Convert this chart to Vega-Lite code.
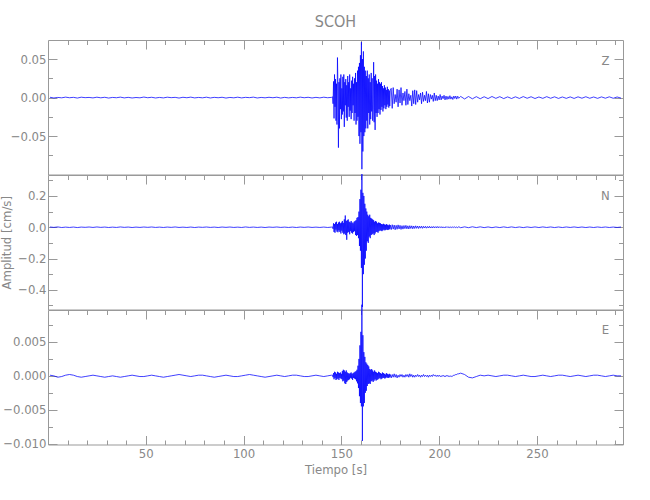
{
"$schema": "https://vega.github.io/schema/vega-lite/v6.json",
"background": "white",
"padding": {"left": 0, "top": 13, "right": 5, "bottom": 5},
"spacing": 0,
"bounds": "flush",
"config": {
  "view": {"stroke": "#999999", "strokeWidth": 1},
  "axis": {"domain": false, "tickColor": "#999999", "labelColor": "#888888", "titleColor": "#888888",
           "labelFont": "Liberation Sans Narrow, DejaVu Sans Condensed, Liberation Sans, sans-serif",
           "titleFont": "Liberation Sans Narrow, DejaVu Sans Condensed, Liberation Sans, sans-serif",
           "labelFontSize": 13, "titleFontSize": 13, "titleFontWeight": "normal", "grid": false, "tickWidth": 1},
  "title": {"font": "Liberation Sans Narrow, DejaVu Sans Condensed, Liberation Sans, sans-serif", "fontWeight": "normal", "color": "#888888", "fontSize": 16},
  "text": {"font": "Liberation Sans Narrow, DejaVu Sans Condensed, Liberation Sans, sans-serif"}
},
"data": {"values": [
{"t":1,"z":0.0004,"n":0.0015,"e":0.0001},{"t":3,"z":-0.0005,"n":-0.001,"e":0.0},{"t":5,"z":0.0002,"n":0.002,"e":-0.0002},{"t":7,"z":-0.0003,"n":-0.0018,"e":-0.0001},{"t":9,"z":0.0006,"n":0.0008,"e":0.0001},{"t":11,"z":-0.0002,"n":-0.0014,"e":0.0002},{"t":13,"z":0.0003,"n":0.0012,"e":0.0001},{"t":15,"z":-0.0006,"n":-0.002,"e":-0.0001},{"t":17,"z":0.0005,"n":0.001,"e":-0.0002},{"t":19,"z":-0.0001,"n":-0.0006,"e":-0.0001},
{"t":21,"z":0.0002,"n":0.0015,"e":0.0},{"t":23,"z":-0.0004,"n":-0.0012,"e":0.0001},{"t":25,"z":0.0005,"n":0.0018,"e":0.0},{"t":27,"z":-0.0003,"n":-0.0009,"e":-0.0001},{"t":29,"z":0.0004,"n":0.0011,"e":-0.0002},{"t":31,"z":-0.0006,"n":-0.0016,"e":-0.0001},{"t":33,"z":0.0002,"n":0.0007,"e":0.0},{"t":35,"z":-0.0002,"n":-0.0013,"e":-0.0001},{"t":37,"z":0.0006,"n":0.0019,"e":-0.0002},{"t":39,"z":-0.0004,"n":-0.0008,"e":-0.0001},
{"t":41,"z":0.0003,"n":0.0012,"e":0.0},{"t":43,"z":-0.0005,"n":-0.0017,"e":0.0001},{"t":45,"z":0.0001,"n":0.0009,"e":0.0},{"t":47,"z":-0.0003,"n":-0.0011,"e":-0.0001},{"t":49,"z":0.0007,"n":0.0014,"e":-0.0001},{"t":51,"z":-0.0002,"n":-0.0007,"e":0.0},{"t":53,"z":0.0004,"n":0.0016,"e":0.0001},{"t":55,"z":-0.0005,"n":-0.0012,"e":0.0},{"t":57,"z":0.0002,"n":0.0008,"e":-0.0001},{"t":59,"z":-0.0004,"n":-0.0015,"e":-0.0002},
{"t":61,"z":0.0005,"n":0.0011,"e":-0.0001},{"t":63,"z":-0.0001,"n":-0.0009,"e":0.0},{"t":65,"z":0.0003,"n":0.0017,"e":0.0001},{"t":67,"z":-0.0006,"n":-0.0013,"e":0.0002},{"t":69,"z":0.0004,"n":0.0006,"e":0.0001},{"t":71,"z":-0.0002,"n":-0.0014,"e":0.0},{"t":73,"z":0.0006,"n":0.0012,"e":-0.0001},{"t":75,"z":-0.0004,"n":-0.0018,"e":0.0},{"t":77,"z":0.0002,"n":0.001,"e":0.0001},{"t":79,"z":-0.0003,"n":-0.0007,"e":0.0001},
{"t":81,"z":0.0005,"n":0.0015,"e":0.0},{"t":83,"z":-0.0005,"n":-0.0011,"e":-0.0001},{"t":85,"z":0.0003,"n":0.0009,"e":-0.0002},{"t":87,"z":-0.0002,"n":-0.0016,"e":-0.0001},{"t":89,"z":0.0004,"n":0.0013,"e":0.0},{"t":91,"z":-0.0006,"n":-0.0008,"e":0.0001},{"t":93,"z":0.0002,"n":0.0014,"e":0.0},{"t":95,"z":-0.0003,"n":-0.0012,"e":-0.0001},{"t":97,"z":0.0005,"n":0.0007,"e":-0.0001},{"t":99,"z":-0.0004,"n":-0.0015,"e":0.0},
{"t":101,"z":0.0003,"n":0.0018,"e":0.0001},{"t":103,"z":-0.0001,"n":-0.001,"e":0.0002},{"t":105,"z":0.0006,"n":0.0011,"e":0.0001},{"t":107,"z":-0.0005,"n":-0.0013,"e":0.0},{"t":109,"z":0.0002,"n":0.0009,"e":-0.0001},{"t":111,"z":-0.0003,"n":-0.0017,"e":-0.0002},{"t":113,"z":0.0004,"n":0.0012,"e":-0.0001},{"t":115,"z":-0.0002,"n":-0.0006,"e":0.0},{"t":117,"z":0.0005,"n":0.0016,"e":0.0001},{"t":119,"z":-0.0006,"n":-0.0011,"e":0.0},
{"t":121,"z":0.0003,"n":0.0008,"e":-0.0001},{"t":123,"z":-0.0004,"n":-0.0014,"e":0.0},{"t":125,"z":0.0002,"n":0.001,"e":0.0001},{"t":127,"z":-0.0003,"n":-0.0016,"e":0.0001},{"t":129,"z":0.0006,"n":0.0013,"e":0.0},{"t":131,"z":-0.0002,"n":-0.0009,"e":-0.0001},{"t":133,"z":0.0004,"n":0.0015,"e":-0.0001},{"t":135,"z":-0.0005,"n":-0.0012,"e":0.0},{"t":137,"z":0.0003,"n":0.0007,"e":0.0001},{"t":139,"z":-0.0004,"n":-0.0013,"e":0.0},
{"t":141,"z":0.0005,"n":0.0011,"e":-0.0001},{"t":143,"z":-0.0002,"n":-0.0015,"e":0.0},{"t":145,"z":0.0003,"n":0.0009,"e":0.0001},
{"t":145.5,"z":0.001,"n":0.002,"e":0.0001},{"t":145.75,"z":-0.008,"n":-0.01,"e":-0.0002},{"t":146,"z":0.021,"n":0.025,"e":0.0004},{"t":146.25,"z":-0.027,"n":-0.03,"e":-0.0005},{"t":146.5,"z":0.03,"n":0.02,"e":0.0006},{"t":146.75,"z":-0.012,"n":-0.035,"e":-0.0003},{"t":147,"z":0.024,"n":0.03,"e":0.0005},{"t":147.25,"z":-0.03,"n":-0.015,"e":-0.0006},{"t":147.5,"z":0.018,"n":0.035,"e":0.0003},{"t":147.75,"z":-0.035,"n":-0.028,"e":-0.0005},
{"t":148,"z":0.052,"n":0.02,"e":0.0006},{"t":148.25,"z":0.015,"n":-0.032,"e":-0.0004},{"t":148.5,"z":-0.065,"n":0.03,"e":0.0005},{"t":148.75,"z":0.02,"n":-0.02,"e":-0.0006},{"t":149,"z":-0.04,"n":0.035,"e":0.0004},{"t":149.25,"z":0.025,"n":-0.03,"e":-0.0003},{"t":149.5,"z":-0.015,"n":0.025,"e":0.0005},{"t":149.75,"z":0.03,"n":-0.04,"e":-0.0004},{"t":150,"z":-0.028,"n":0.03,"e":0.0003},{"t":150.25,"z":0.012,"n":-0.022,"e":-0.0005},
{"t":150.5,"z":-0.022,"n":0.04,"e":0.0007},{"t":150.75,"z":0.027,"n":-0.035,"e":-0.0008},{"t":151,"z":-0.018,"n":0.028,"e":0.0009},{"t":151.25,"z":0.03,"n":-0.045,"e":-0.0007},{"t":151.5,"z":-0.038,"n":0.05,"e":0.0008},{"t":151.75,"z":0.02,"n":-0.04,"e":-0.0011},{"t":152,"z":-0.01,"n":0.075,"e":0.0006},{"t":152.25,"z":0.024,"n":-0.05,"e":-0.0012},{"t":152.5,"z":-0.026,"n":0.04,"e":0.0008},{"t":152.75,"z":0.016,"n":-0.08,"e":-0.0009},
{"t":153,"z":-0.03,"n":0.045,"e":0.0005},{"t":153.25,"z":0.028,"n":-0.035,"e":-0.0007},{"t":153.5,"z":-0.012,"n":0.05,"e":0.0004},{"t":153.75,"z":0.02,"n":-0.03,"e":-0.0006},{"t":154,"z":-0.025,"n":0.035,"e":0.0003},{"t":154.25,"z":0.03,"n":-0.045,"e":-0.0005},{"t":154.5,"z":-0.017,"n":0.03,"e":0.0004},{"t":154.75,"z":0.012,"n":-0.025,"e":-0.0003},{"t":155,"z":-0.028,"n":0.04,"e":0.0005},{"t":155.25,"z":0.022,"n":-0.035,"e":-0.0004},
{"t":155.5,"z":-0.02,"n":0.03,"e":0.0003},{"t":155.75,"z":0.027,"n":-0.04,"e":-0.0006},{"t":156,"z":-0.01,"n":0.025,"e":0.0004},{"t":156.25,"z":0.018,"n":-0.03,"e":-0.0003},{"t":156.5,"z":-0.03,"n":0.035,"e":0.0005},{"t":156.75,"z":0.025,"n":-0.025,"e":-0.0004},{"t":157,"z":-0.02,"n":0.04,"e":0.0006},{"t":157.25,"z":0.032,"n":-0.05,"e":-0.0005},{"t":157.5,"z":-0.035,"n":0.045,"e":0.0007},{"t":157.75,"z":0.02,"n":-0.055,"e":-0.0008},
{"t":158,"z":-0.03,"n":0.06,"e":0.0009},{"t":158.25,"z":0.035,"n":-0.05,"e":-0.0011},{"t":158.5,"z":-0.025,"n":0.065,"e":0.0015},{"t":158.75,"z":0.04,"n":-0.07,"e":-0.0018},{"t":159,"z":-0.05,"n":0.1,"e":0.0025},{"t":159.25,"z":0.045,"n":-0.12,"e":-0.003},{"t":159.5,"z":-0.06,"n":0.18,"e":0.0045},{"t":159.75,"z":0.055,"n":-0.15,"e":-0.004},{"t":160,"z":-0.045,"n":0.24,"e":0.0065},{"t":160.25,"z":0.072,"n":-0.26,"e":-0.0045},
{"t":160.5,"z":-0.093,"n":0.34,"e":0.0105},{"t":160.75,"z":0.05,"n":-0.51,"e":-0.0096},{"t":161,"z":-0.07,"n":0.22,"e":0.006},{"t":161.25,"z":0.06,"n":-0.3,"e":-0.0045},{"t":161.5,"z":-0.05,"n":0.2,"e":0.0035},{"t":161.75,"z":0.04,"n":-0.24,"e":-0.004},{"t":162,"z":-0.045,"n":0.15,"e":0.0028},{"t":162.25,"z":0.035,"n":-0.2,"e":-0.0025},{"t":162.5,"z":-0.04,"n":0.12,"e":0.002},{"t":162.75,"z":0.028,"n":-0.15,"e":-0.0022},
{"t":163,"z":-0.03,"n":0.1,"e":0.0018},{"t":163.25,"z":0.035,"n":-0.09,"e":-0.0015},{"t":163.5,"z":-0.04,"n":0.08,"e":0.0016},{"t":163.75,"z":0.025,"n":-0.1,"e":-0.0012},{"t":164,"z":-0.02,"n":0.07,"e":0.0014},{"t":164.25,"z":0.03,"n":-0.06,"e":-0.0011},{"t":164.5,"z":-0.035,"n":0.08,"e":0.001},{"t":164.75,"z":0.02,"n":-0.07,"e":-0.0012},{"t":165,"z":-0.028,"n":0.06,"e":0.0009},{"t":165.25,"z":0.032,"n":-0.05,"e":-0.0008},
{"t":165.5,"z":-0.018,"n":0.055,"e":0.001},{"t":165.75,"z":0.025,"n":-0.045,"e":-0.0007},{"t":166,"z":-0.03,"n":0.05,"e":0.0008},{"t":166.25,"z":-0.015,"n":-0.04,"e":-0.0009},{"t":166.5,"z":0.046,"n":0.045,"e":0.0006},{"t":166.75,"z":-0.032,"n":-0.05,"e":-0.0007},{"t":167,"z":0.028,"n":0.035,"e":0.0008},{"t":167.25,"z":-0.042,"n":-0.04,"e":-0.0005},{"t":167.5,"z":0.03,"n":0.04,"e":0.0006},{"t":167.75,"z":-0.02,"n":-0.03,"e":-0.0007},
{"t":168,"z":0.022,"n":0.035,"e":0.0005},{"t":168.25,"z":-0.025,"n":-0.03,"e":-0.0006},{"t":168.5,"z":0.018,"n":0.025,"e":0.0004},{"t":168.75,"z":-0.02,"n":-0.035,"e":-0.0005},{"t":169,"z":0.024,"n":0.03,"e":0.0006},{"t":169.25,"z":-0.015,"n":-0.025,"e":-0.0004},{"t":169.5,"z":0.02,"n":0.028,"e":0.0005},{"t":169.75,"z":-0.022,"n":-0.02,"e":-0.0003},{"t":170,"z":0.018,"n":0.025,"e":0.0004},{"t":170.25,"z":-0.016,"n":-0.022,"e":-0.0005},
{"t":170.5,"z":0.02,"n":0.02,"e":0.0003},{"t":170.75,"z":-0.012,"n":-0.025,"e":-0.0004},{"t":171,"z":0.015,"n":0.018,"e":0.0005},{"t":171.25,"z":-0.018,"n":-0.02,"e":-0.0003},{"t":171.5,"z":0.012,"n":0.022,"e":0.0004},{"t":171.75,"z":-0.014,"n":-0.015,"e":-0.0003},{"t":172,"z":0.016,"n":0.018,"e":0.0003},{"t":172.25,"z":-0.01,"n":-0.02,"e":-0.0004},{"t":172.5,"z":0.013,"n":0.015,"e":0.0002},{"t":172.75,"z":-0.015,"n":-0.017,"e":-0.0003},
{"t":173,"z":0.01,"n":0.02,"e":0.0004},{"t":173.25,"z":-0.012,"n":-0.014,"e":-0.0002},{"t":173.5,"z":0.014,"n":0.016,"e":0.0003},{"t":173.75,"z":-0.009,"n":-0.018,"e":-0.0003},{"t":174,"z":0.011,"n":0.012,"e":0.0002},{"t":174.25,"z":-0.013,"n":-0.015,"e":-0.0003},{"t":174.5,"z":0.009,"n":0.017,"e":0.0003},{"t":174.75,"z":-0.011,"n":-0.012,"e":-0.0002},{"t":175,"z":0.01,"n":0.014,"e":0.0002},
{"t":175.5,"z":0.012,"n":-0.015,"e":-0.0003},{"t":176,"z":-0.014,"n":0.016,"e":0.0002},{"t":176.5,"z":0.013,"n":-0.012,"e":-0.0002},{"t":177,"z":-0.008,"n":0.014,"e":0.0003},{"t":177.5,"z":0.004,"n":-0.016,"e":-0.0002},{"t":178,"z":-0.006,"n":0.012,"e":0.0002},{"t":178.5,"z":0.011,"n":-0.013,"e":-0.0003},{"t":179,"z":-0.012,"n":0.015,"e":0.0001},{"t":179.5,"z":0.01,"n":-0.011,"e":-0.0002},{"t":180,"z":-0.007,"n":0.012,"e":0.0002},
{"t":180.5,"z":0.013,"n":-0.014,"e":-0.0001},{"t":181,"z":-0.01,"n":0.01,"e":0.0002},{"t":181.5,"z":0.006,"n":-0.012,"e":-0.0002},{"t":182,"z":-0.004,"n":0.011,"e":0.0001},{"t":182.5,"z":0.008,"n":-0.009,"e":-0.0002},{"t":183,"z":-0.01,"n":0.012,"e":0.0002},{"t":183.5,"z":0.011,"n":-0.01,"e":-0.0001},{"t":184,"z":-0.009,"n":0.009,"e":0.0002},{"t":184.5,"z":0.005,"n":-0.011,"e":-0.0002},{"t":185,"z":-0.004,"n":0.01,"e":0.0003},
{"t":185.5,"z":0.003,"n":-0.008,"e":-0.0001},{"t":186,"z":-0.011,"n":0.009,"e":0.0002},{"t":186.5,"z":0.009,"n":-0.01,"e":-0.0002},{"t":187,"z":-0.008,"n":0.008,"e":0.0001},{"t":187.5,"z":0.01,"n":-0.008,"e":-0.0002},{"t":188,"z":-0.009,"n":0.009,"e":0.0001},{"t":188.5,"z":0.009,"n":-0.007,"e":-0.0001},{"t":189,"z":-0.006,"n":0.008,"e":0.0002},{"t":189.5,"z":0.004,"n":-0.008,"e":-0.0001},{"t":190,"z":-0.003,"n":0.007,"e":0.0001},
{"t":190.5,"z":0.006,"n":-0.006,"e":-0.0002},{"t":191,"z":-0.008,"n":0.007,"e":0.0001},{"t":191.5,"z":0.007,"n":-0.007,"e":-0.0001},{"t":192,"z":-0.005,"n":0.006,"e":0.0002},{"t":192.5,"z":0.003,"n":-0.005,"e":-0.0001},{"t":193,"z":-0.004,"n":0.006,"e":0.0001},{"t":193.5,"z":0.008,"n":-0.006,"e":-0.0001},{"t":194,"z":-0.007,"n":0.005,"e":0.0001},{"t":194.5,"z":0.005,"n":-0.005,"e":-0.0002},{"t":195,"z":-0.006,"n":0.006,"e":0.0001},
{"t":195.5,"z":0.004,"n":-0.005,"e":-0.0001},{"t":196,"z":-0.002,"n":0.004,"e":0.0001},{"t":196.5,"z":0.003,"n":-0.005,"e":-0.0001},{"t":197,"z":-0.005,"n":0.005,"e":0.0002},{"t":197.5,"z":0.006,"n":-0.004,"e":0.0},{"t":198,"z":-0.004,"n":0.004,"e":0.0001},{"t":198.5,"z":0.003,"n":-0.004,"e":-0.0001},{"t":199,"z":-0.004,"n":0.005,"e":0.0001},{"t":199.5,"z":0.002,"n":-0.004,"e":-0.0001},{"t":200,"z":-0.003,"n":0.004,"e":0.0001},
{"t":200.5,"z":0.004,"n":-0.003,"e":-0.0001},{"t":201,"z":-0.003,"n":0.004,"e":0.0},{"t":201.5,"z":0.002,"n":-0.004,"e":-0.0001},{"t":202,"z":-0.0015,"n":0.003,"e":0.0001},{"t":202.5,"z":0.003,"n":-0.004,"e":-0.0001},{"t":203,"z":-0.003,"n":0.003,"e":0.0},{"t":203.5,"z":0.002,"n":-0.003,"e":-0.0001},{"t":204,"z":-0.0025,"n":0.004,"e":0.0001},{"t":204.5,"z":0.0015,"n":-0.003,"e":-0.0001},{"t":205,"z":-0.002,"n":0.003,"e":0.0},
{"t":205.5,"z":0.0025,"n":-0.003,"e":-0.0001},{"t":206,"z":-0.002,"n":0.003,"e":0.0},{"t":206.5,"z":0.001,"n":-0.003,"e":-0.0001},{"t":207,"z":-0.0025,"n":0.003,"e":0.0},{"t":207.5,"z":0.002,"n":-0.002,"e":0.0001},{"t":208,"z":-0.0012,"n":0.003,"e":0.0001},{"t":208.5,"z":0.002,"n":-0.003,"e":0.0002},{"t":209,"z":-0.002,"n":0.002,"e":0.0002},{"t":209.5,"z":0.0018,"n":-0.003,"e":0.0003},{"t":210,"z":-0.001,"n":0.003,"e":0.0003},
{"t":211,"z":0.0015,"n":-0.003,"e":0.0004},{"t":213,"z":-0.0018,"n":0.0025,"e":0.0002},{"t":215,"z":0.0014,"n":-0.0028,"e":-0.0002},{"t":217,"z":-0.0016,"n":0.003,"e":-0.0003},{"t":219,"z":0.0012,"n":-0.0022,"e":-0.0001},{"t":221,"z":-0.0015,"n":0.0026,"e":0.0001},{"t":223,"z":0.0011,"n":-0.0024,"e":0.0},{"t":225,"z":-0.0013,"n":0.002,"e":0.0001},{"t":227,"z":0.0014,"n":-0.0027,"e":0.0},{"t":229,"z":-0.001,"n":0.0018,"e":-0.0001},
{"t":231,"z":0.0012,"n":-0.0021,"e":0.0},{"t":233,"z":-0.0013,"n":0.0023,"e":0.0001},{"t":235,"z":0.0009,"n":-0.0019,"e":0.0001},{"t":237,"z":-0.0012,"n":0.0022,"e":0.0},{"t":239,"z":0.001,"n":-0.002,"e":-0.0001},{"t":241,"z":-0.0011,"n":0.0017,"e":0.0},{"t":243,"z":0.0013,"n":-0.0023,"e":0.0001},{"t":245,"z":-0.0009,"n":0.0019,"e":0.0},{"t":247,"z":0.0011,"n":-0.0016,"e":-0.0001},{"t":249,"z":-0.0012,"n":0.002,"e":-0.0001},
{"t":251,"z":0.0008,"n":-0.0018,"e":0.0},{"t":253,"z":-0.001,"n":0.0021,"e":0.0001},{"t":255,"z":0.0012,"n":-0.0015,"e":0.0},{"t":257,"z":-0.0009,"n":0.0018,"e":-0.0001},{"t":259,"z":0.001,"n":-0.002,"e":0.0},{"t":261,"z":-0.0011,"n":0.0016,"e":0.0001},{"t":263,"z":0.0008,"n":-0.0019,"e":0.0001},{"t":265,"z":-0.001,"n":0.0017,"e":0.0},{"t":267,"z":0.0009,"n":-0.0014,"e":-0.0001},{"t":269,"z":-0.0011,"n":0.0019,"e":0.0},
{"t":271,"z":0.001,"n":-0.0016,"e":0.0001},{"t":273,"z":-0.0008,"n":0.0015,"e":0.0},{"t":275,"z":0.0011,"n":-0.0018,"e":-0.0001},{"t":277,"z":-0.0009,"n":0.0014,"e":0.0},{"t":279,"z":0.0008,"n":-0.0017,"e":0.0001},{"t":281,"z":-0.001,"n":0.0016,"e":0.0001},{"t":283,"z":0.0009,"n":-0.0013,"e":0.0},{"t":285,"z":-0.0008,"n":0.0015,"e":-0.0001},{"t":287,"z":0.001,"n":-0.0016,"e":0.0},{"t":289,"z":-0.0009,"n":0.0012,"e":0.0001},
{"t":291,"z":0.0008,"n":-0.0014,"e":0.0},{"t":293,"z":-0.0007,"n":0.0013,"e":0.0}
]},
"vconcat": [
{
  "width": 575, "height": 134.5,
  "title": {"text": "SCOH", "anchor": "middle", "frame": "group", "offset": 10},
  "layer": [
    {"mark": {"type": "line", "color": "#0000ff", "strokeWidth": 0.75},
     "encoding": {
       "x": {"field": "t", "type": "quantitative", "scale": {"domain": [0, 294], "nice": false, "zero": false}, "axis": null},
       "y": {"field": "z", "type": "quantitative", "scale": {"domain": [-0.0999, 0.0748], "nice": false, "zero": false},
             "axis": {"orient": "left", "title": null, "values": [-0.05, 0, 0.05], "format": ".2f", "tickSize": -9, "labelPadding": 11}}
     }},
    {"data": {"values": [{"lab": "Z", "px": 285, "py": 0.0475}]},
     "mark": {"type": "text", "color": "#888888", "fontSize": 13, "baseline": "middle", "align": "center"},
     "encoding": {
       "x": {"field": "px", "type": "quantitative", "scale": {"domain": [0, 294], "nice": false, "zero": false},
             "axis": {"orient": "top", "labels": false, "title": null, "values": [50, 100, 150, 200, 250], "tickSize": -9}},
       "y": {"field": "py", "type": "quantitative", "scale": {"domain": [-0.0999, 0.0748], "nice": false, "zero": false},
             "axis": {"orient": "right", "labels": false, "title": null, "values": [-0.05, 0, 0.05], "tickSize": -9}},
       "text": {"field": "lab"}
     }},
    {"data": {"values": [{"px": 285, "py": 0.0475}]},
     "mark": {"type": "text"},
     "encoding": {
       "x": {"field": "px", "type": "quantitative", "scale": {"domain": [0, 294], "nice": false, "zero": false},
             "axis": {"orient": "top", "labels": false, "title": null, "values": [10,20,30,40,60,70,80,90,110,120,130,140,160,170,180,190,210,220,230,240,260,270,280,290], "tickSize": -4.5}},
       "y": {"field": "py", "type": "quantitative", "scale": {"domain": [-0.0999, 0.0748], "nice": false, "zero": false},
             "axis": {"orient": "left", "labels": false, "title": null, "values": [-0.075, -0.025, 0.025], "tickSize": -4.5}}
     }},
    {"data": {"values": [{"px": 285, "py": 0.0475}]},
     "mark": {"type": "text"},
     "encoding": {
       "x": {"field": "px", "type": "quantitative", "scale": {"domain": [0, 294], "nice": false, "zero": false}, "axis": null},
       "y": {"field": "py", "type": "quantitative", "scale": {"domain": [-0.0999, 0.0748], "nice": false, "zero": false},
             "axis": {"orient": "right", "labels": false, "title": null, "values": [-0.075, -0.025, 0.025], "tickSize": -4.5}}
     }}
  ],
  "resolve": {"scale": {"x": "independent", "y": "independent"}, "axis": {"x": "independent", "y": "independent"}}
},
{
  "width": 575, "height": 134.5,
  "layer": [
    {"mark": {"type": "line", "color": "#0000ff", "strokeWidth": 0.75},
     "encoding": {
       "x": {"field": "t", "type": "quantitative", "scale": {"domain": [0, 294], "nice": false, "zero": false}, "axis": null},
       "y": {"field": "n", "type": "quantitative", "scale": {"domain": [-0.526, 0.334], "nice": false, "zero": false},
             "axis": {"orient": "left", "title": "Amplitud [cm/s]", "titlePadding": 4, "values": [-0.4, -0.2, 0, 0.2], "format": ".1f", "tickSize": -9, "labelPadding": 11}}
     }},
    {"data": {"values": [{"lab": "N", "px": 285, "py": 0.2}]},
     "mark": {"type": "text", "color": "#888888", "fontSize": 13, "baseline": "middle", "align": "center"},
     "encoding": {
       "x": {"field": "px", "type": "quantitative", "scale": {"domain": [0, 294], "nice": false, "zero": false},
             "axis": {"orient": "top", "labels": false, "title": null, "values": [50, 100, 150, 200, 250], "tickSize": -9}},
       "y": {"field": "py", "type": "quantitative", "scale": {"domain": [-0.526, 0.334], "nice": false, "zero": false},
             "axis": {"orient": "right", "labels": false, "title": null, "values": [-0.4, -0.2, 0, 0.2], "tickSize": -9}},
       "text": {"field": "lab"}
     }},
    {"data": {"values": [{"px": 285, "py": 0.2}]},
     "mark": {"type": "text"},
     "encoding": {
       "x": {"field": "px", "type": "quantitative", "scale": {"domain": [0, 294], "nice": false, "zero": false},
             "axis": {"orient": "top", "labels": false, "title": null, "values": [10,20,30,40,60,70,80,90,110,120,130,140,160,170,180,190,210,220,230,240,260,270,280,290], "tickSize": -4.5}},
       "y": {"field": "py", "type": "quantitative", "scale": {"domain": [-0.526, 0.334], "nice": false, "zero": false},
             "axis": {"orient": "left", "labels": false, "title": null, "values": [-0.5, -0.3, -0.1, 0.1, 0.3], "tickSize": -4.5}}
     }},
    {"data": {"values": [{"px": 285, "py": 0.2}]},
     "mark": {"type": "text"},
     "encoding": {
       "x": {"field": "px", "type": "quantitative", "scale": {"domain": [0, 294], "nice": false, "zero": false}, "axis": null},
       "y": {"field": "py", "type": "quantitative", "scale": {"domain": [-0.526, 0.334], "nice": false, "zero": false},
             "axis": {"orient": "right", "labels": false, "title": null, "values": [-0.5, -0.3, -0.1, 0.1, 0.3], "tickSize": -4.5}}
     }}
  ],
  "resolve": {"scale": {"x": "independent", "y": "independent"}, "axis": {"x": "independent", "y": "independent"}}
},
{
  "width": 575, "height": 134.5,
  "layer": [
    {"mark": {"type": "line", "color": "#0000ff", "strokeWidth": 0.75},
     "encoding": {
       "x": {"field": "t", "type": "quantitative", "scale": {"domain": [0, 294], "nice": false, "zero": false},
             "axis": {"orient": "bottom", "title": "Tiempo [s]", "titlePadding": 3, "values": [50, 100, 150, 200, 250], "tickSize": -9, "labelPadding": 12}},
       "y": {"field": "e", "type": "quantitative", "scale": {"domain": [-0.01013, 0.00972], "nice": false, "zero": false},
             "axis": {"orient": "left", "title": null, "values": [-0.01, -0.005, 0, 0.005], "format": ".3f", "tickSize": -9, "labelPadding": 11}}
     }},
    {"data": {"values": [{"lab": "E", "px": 285, "py": 0.0067}]},
     "mark": {"type": "text", "color": "#888888", "fontSize": 13, "baseline": "middle", "align": "center"},
     "encoding": {
       "x": {"field": "px", "type": "quantitative", "scale": {"domain": [0, 294], "nice": false, "zero": false},
             "axis": {"orient": "top", "labels": false, "title": null, "values": [50, 100, 150, 200, 250], "tickSize": -9}},
       "y": {"field": "py", "type": "quantitative", "scale": {"domain": [-0.01013, 0.00972], "nice": false, "zero": false},
             "axis": {"orient": "right", "labels": false, "title": null, "values": [-0.01, -0.005, 0, 0.005], "tickSize": -9}},
       "text": {"field": "lab"}
     }},
    {"data": {"values": [{"px": 285, "py": 0.0067}]},
     "mark": {"type": "text"},
     "encoding": {
       "x": {"field": "px", "type": "quantitative", "scale": {"domain": [0, 294], "nice": false, "zero": false},
             "axis": {"orient": "top", "labels": false, "title": null, "values": [10,20,30,40,60,70,80,90,110,120,130,140,160,170,180,190,210,220,230,240,260,270,280,290], "tickSize": -4.5}},
       "y": {"field": "py", "type": "quantitative", "scale": {"domain": [-0.01013, 0.00972], "nice": false, "zero": false},
             "axis": {"orient": "left", "labels": false, "title": null, "values": [-0.0075, -0.0025, 0.0025, 0.0075], "tickSize": -4.5}}
     }},
    {"data": {"values": [{"px": 285, "py": 0.0067}]},
     "mark": {"type": "text"},
     "encoding": {
       "x": {"field": "px", "type": "quantitative", "scale": {"domain": [0, 294], "nice": false, "zero": false},
             "axis": {"orient": "bottom", "labels": false, "title": null, "values": [10,20,30,40,60,70,80,90,110,120,130,140,160,170,180,190,210,220,230,240,260,270,280,290], "tickSize": -4.5}},
       "y": {"field": "py", "type": "quantitative", "scale": {"domain": [-0.01013, 0.00972], "nice": false, "zero": false},
             "axis": {"orient": "right", "labels": false, "title": null, "values": [-0.0075, -0.0025, 0.0025, 0.0075], "tickSize": -4.5}}
     }}
  ],
  "resolve": {"scale": {"x": "independent", "y": "independent"}, "axis": {"x": "independent", "y": "independent"}}
}
]
}
